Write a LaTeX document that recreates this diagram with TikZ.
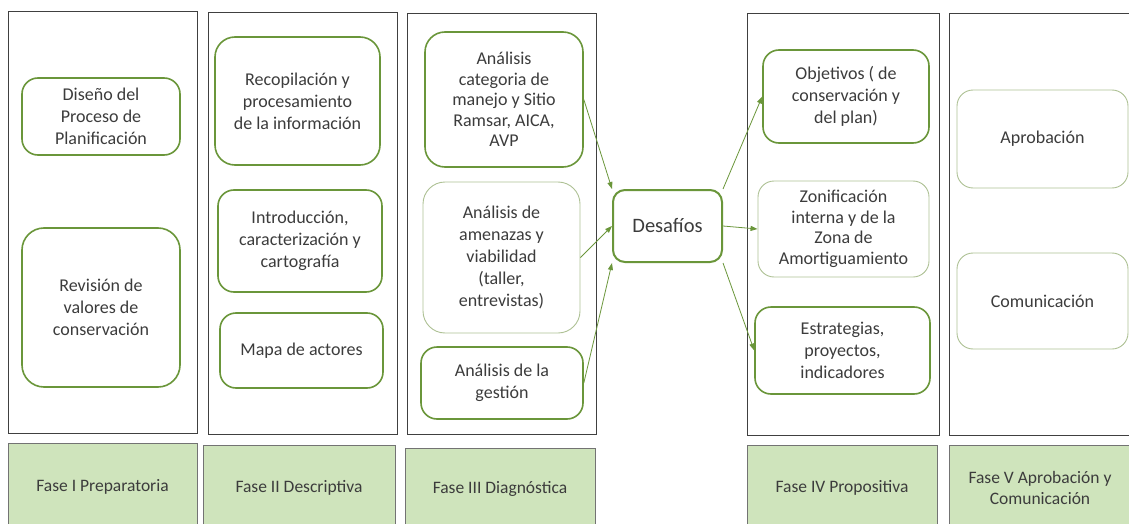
\documentclass[tikz,border=0pt]{standalone}
\usepackage{fontspec}
\setmainfont{Carlito}
\usetikzlibrary{arrows.meta}
\definecolor{verde}{HTML}{6A963A}
\definecolor{verdeclaro}{HTML}{AEC194}
\definecolor{relleno}{HTML}{CFE4BC}
\definecolor{texto}{HTML}{3C3C3C}
\begin{document}
\begin{tikzpicture}[x=1pt, y=-1pt,
    frame/.style={draw=black!75, line width=0.9pt, inner sep=0pt},
    fase/.style={draw=black!55, fill=relleno, line width=0.8pt, inner sep=0pt,
      align=center, text=texto, font=\fontsize{17.5}{21}\selectfont},
    paso/.style={draw=verde, line width=1.6pt, rounded corners=16pt, align=center,
      text=texto, inner sep=0pt, font=\fontsize{18}{22}\selectfont},
    suave/.style={paso, draw=verdeclaro, line width=0.9pt},
    flecha/.style={draw=verde, line width=0.8pt, -{Triangle[length=7pt,width=5pt]}}]
  \useasboundingbox (0,0) rectangle (1129,524);
  \fill[white] (0,0) rectangle (1129,524);
  \clip (0,0) rectangle (1129,524);

  % columnas
  \node[frame, minimum width=189pt, minimum height=422pt] (c1) at (102.5,222) {};
  \node[frame, minimum width=189pt, minimum height=422pt] (c2) at (302.5,223) {};
  \node[frame, minimum width=189pt, minimum height=421pt] (c3) at (501.5,223.5) {};
  \node[frame, minimum width=192pt, minimum height=422pt] (c4) at (843,224) {};
  \node[frame, minimum width=180pt, minimum height=422pt] (c5) at (1039,224) {};

  % fases
  \node[fase, minimum width=189pt, minimum height=87pt] (f1) at (102.5,486.5) {Fase I Preparatoria};
  \node[fase, minimum width=192pt, minimum height=85pt] (f2) at (299,487.5) {Fase II Descriptiva};
  \node[fase, minimum width=190pt, minimum height=82pt] (f3) at (500,489) {Fase III Diagnóstica};
  \node[fase, minimum width=190pt, minimum height=85pt] (f4) at (842,487.5) {Fase IV Propositiva};
  \node[fase, minimum width=182pt, minimum height=85pt] (f5) at (1040,487.5) {Fase V Aprobación y\\ Comunicación};

  % pasos
  \node[paso, minimum width=158pt, minimum height=77pt] (dis) at (101,116.5) {Diseño del\\ Proceso de\\ Planificación};
  \node[paso, minimum width=158pt, minimum height=159pt, rounded corners=22pt] (rev) at (101,307.5) {Revisión de\\ valores de\\ conservación};
  \node[paso, minimum width=165pt, minimum height=128pt, rounded corners=20pt] (rec) at (297.5,101) {Recopilación y\\ procesamiento\\ de la información};
  \node[paso, minimum width=164pt, minimum height=102pt] (int) at (300,241) {Introducción,\\ caracterización y\\ cartografía};
  \node[paso, minimum width=163pt, minimum height=75pt] (map) at (301.5,350.5) {Mapa de actores};
  \node[paso, minimum width=158pt, minimum height=135pt, rounded corners=20pt,
    font=\fontsize{18}{20.5}\selectfont] (cat) at (504,99.5) {Análisis\\ categoria de\\ manejo y Sitio\\ Ramsar, AICA,\\ AVP};
  \node[suave, minimum width=157pt, minimum height=151pt, rounded corners=22pt] (ame) at (501.5,257.5) {Análisis de\\ amenazas y\\ viabilidad\\ (taller,\\ entrevistas)};
  \node[paso, minimum width=162pt, minimum height=72pt] (ges) at (502,383) {Análisis de la\\ gestión};
  \node[paso, minimum width=109pt, minimum height=72pt, line width=2pt, rounded corners=12pt,
    font=\fontsize{20.5}{22}\selectfont] (des) at (667.5,226) {Desafíos};
  \node[paso, minimum width=166pt, minimum height=93pt] (obj) at (846,96.5) {Objetivos ( de\\ conservación y\\ del plan)};
  \node[suave, minimum width=171pt, minimum height=96pt, font=\fontsize{18}{20.5}\selectfont] (zon) at (843.5,229) {Zonificación\\ interna y de la\\ Zona de\\ Amortiguamiento};
  \node[paso, minimum width=175pt, minimum height=87pt] (est) at (842.5,350.5) {Estrategias,\\ proyectos,\\ indicadores};
  \node[suave, minimum width=171pt, minimum height=98pt] (apr) at (1042.5,139) {Aprobación};
  \node[suave, minimum width=171pt, minimum height=96pt] (com) at (1042.5,301) {Comunicación};

  \draw[flecha] (cat.east) -- (des.north west);
  \draw[flecha] (ame.east) -- (des.west);
  \draw[flecha] (ges.east) -- (des.south west);
  \draw[flecha] (des.north east) -- (obj.west);
  \draw[flecha] (des.east) -- (zon.west);
  \draw[flecha] (des.south east) -- (est.west);
\end{tikzpicture}
\end{document}
